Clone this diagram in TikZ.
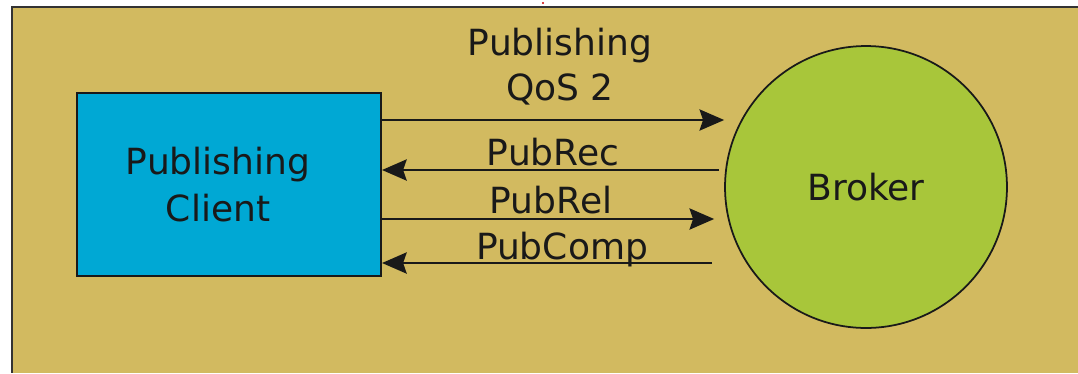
\documentclass[tikz,border=0pt]{standalone}
\usepackage{fontspec}
\setmainfont{DejaVu Sans}
\usepackage{xcolor}
\usetikzlibrary{positioning,calc,arrows.meta}

\definecolor{bgtan}{HTML}{D2BA60}
\definecolor{clientblue}{HTML}{00A8D4}
\definecolor{brokergreen}{HTML}{A8C63A}

\tikzset{
    msg/.style={draw=black!90, line width=1.6pt, -{Stealth[length=14pt,width=12pt,inset=2pt]}},
    lbl/.style={font=\fontsize{20.5}{26}\selectfont, text=black!90, inner sep=0pt},
}

\begin{document}
\begin{tikzpicture}[x=0.02cm,y=-0.02cm]
    \useasboundingbox (0,0) rectangle (1078,373);

    % Background
    \fill[bgtan] (12,7) rectangle (1078,373);
    \draw[black!80, line width=1pt] (1078,7) -- (12,7) -- (12,373);
    \fill[red!80!black] (543,3) circle (1.2);

    % Client
    \node[draw=black!90, line width=1.2pt, fill=clientblue, minimum width=6.08cm, minimum height=3.66cm,
          label={[lbl, align=center, font=\fontsize{20.5}{26.5}\selectfont, xshift=-11*0.02cm]center:Publishing\\Client}]
          (client) at (229,184.5) {};

    % Broker
    \node[draw=black!90, line width=1pt, fill=brokergreen, circle, minimum size=5.64cm,
          font=\fontsize{20.5}{26}\selectfont, text=black!90] (broker) at (866,187) {Broker};

    % Messages
    \draw[msg] (client.east |- 0,120) -- (broker.west |- 0,120);
    \draw[msg] ([xshift=-5*0.02cm]broker.west |- 0,170) -- (client.east |- 0,170);
    \draw[msg] (client.east |- 0,219) -- ([xshift=-10*0.02cm]broker.west |- 0,219);
    \draw[msg] ([xshift=-12*0.02cm]broker.west |- 0,263) -- (client.east |- 0,263);

    % Labels
    \node[lbl, anchor=base] (title1) at (560,55) {Publishing};
    \node[lbl, anchor=base] (title2) at (560,100) {QoS 2};
    \node[lbl, anchor=base] (pubrec) at (553,165) {PubRec};
    \node[lbl, anchor=base] (pubrel) at (551,213) {PubRel};
    \node[lbl, anchor=base] (pubcomp) at (562,259) {PubComp};
\end{tikzpicture}
\end{document}
